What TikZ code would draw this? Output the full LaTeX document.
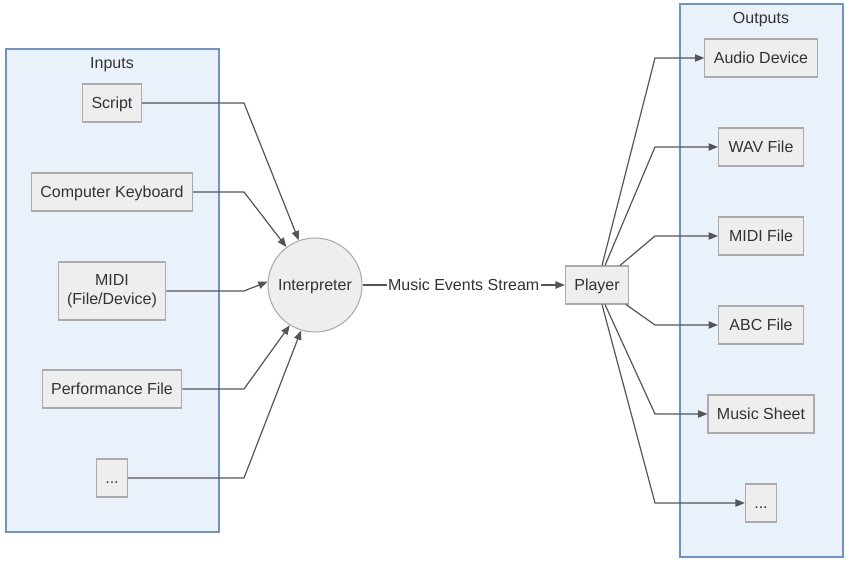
\documentclass[tikz,border=0pt]{standalone}
\usepackage{fontspec}
\setmainfont{Liberation Sans}
\usetikzlibrary{arrows.meta}

\definecolor{clusterfill}{HTML}{E9F1FB}
\definecolor{clusterline}{HTML}{6C94C8}
\definecolor{boxfill}{HTML}{EEEEEE}
\definecolor{boxline}{HTML}{ABABAB}
\definecolor{edgecol}{HTML}{555555}
\definecolor{textcol}{HTML}{333333}

\begin{document}
\begin{tikzpicture}[x=0.75pt, y=-0.75pt, >={Triangle[length=7pt, width=5.5pt]},
    every node/.style={font=\fontsize{12}{14.25}\selectfont, text=textcol,
        text height=9pt, text depth=1.2pt},
    cluster/.style={draw=clusterline, fill=clusterfill, line width=0.8pt},
    box/.style={draw=boxline, fill=boxfill, line width=0.8pt, inner xsep=6.75pt,
        minimum height=28.5pt, align=center},
    link/.style={->, draw=edgecol, line width=0.9pt}]
    \useasboundingbox (0,0) rectangle (849,563);

    % 两个分组框
    \draw[cluster] (6,49) rectangle (219,532);
    \node (inputs) at (112,63) {Inputs};
    \draw[cluster] (680,4) rectangle (843,557);
    \node (outputs) at (761,18) {Outputs};

    % 输入
    \node[box] (script) at (112,103) {Script};
    \node[box] (keyboard) at (112,192) {Computer Keyboard};
    \node[box, minimum height=43.5pt, text height={}, text depth={}] (midi) at (112,291)
        {MIDI\\(File/Device)};
    \node[box] (perf) at (112,389) {Performance File};
    \node[box] (morein) at (112,478) {...};

    % 中间: 解释器和播放器
    \node[circle, draw=boxline, fill=boxfill, line width=0.8pt, minimum size=70.5pt,
        inner sep=0pt] (interp) at (315,285) {Interpreter};
    \node[box] (player) at (597,285) {Player};

    % 输出
    \node[box] (audio) at (761,58) {Audio Device};
    \node[box, minimum width=63.75pt] (wav) at (761,147) {WAV File};
    \node[box, minimum width=63.75pt] (midifile) at (761,236) {MIDI File};
    \node[box, minimum width=63.75pt] (abc) at (761,325) {ABC File};
    \node[box] (sheet) at (761,414) {Music Sheet};
    \node[box] (moreout) at (761,503) {...};

    % 折点所在的竖线
    \coordinate (inbend) at (244,0);
    \coordinate (outbend) at (655,0);

    % 输入 -> 解释器
    \draw[link] (script.east) -- (script.east -| inbend) -- (interp.110);
    \draw[link] (keyboard.east) -- (keyboard.east -| inbend) -- (interp.127);
    \draw[link] (midi.east) -- (midi.east -| inbend) -- (interp.176);
    \draw[link] (perf.east) -- (perf.east -| inbend) -- (interp.238);
    \draw[link] (morein.east) -- (morein.east -| inbend) -- (interp.253);

    % 解释器 -> 播放器
    \draw[link] (interp) -- node[fill=white, inner xsep=1pt, inner ysep=2pt] (stream)
        {Music Events Stream} (player);

    % 播放器 -> 输出
    \draw[link] ([xshift=3.75pt]player.north) -- (audio.west -| outbend) -- (audio.west);
    \draw[link] ([xshift=6pt]player.north) -- (wav.west -| outbend) -- (wav.west);
    \draw[link] ([xshift=17.25pt]player.north) -- (midifile.west -| outbend) -- (midifile.west);
    \draw[link] ([xshift=21.75pt]player.south) -- (abc.west -| outbend) -- (abc.west);
    \draw[link] ([xshift=6pt]player.south) -- (sheet.west -| outbend) -- (sheet.west);
    \draw[link] ([xshift=3.75pt]player.south) -- (moreout.west -| outbend) -- (moreout.west);
\end{tikzpicture}
\end{document}
